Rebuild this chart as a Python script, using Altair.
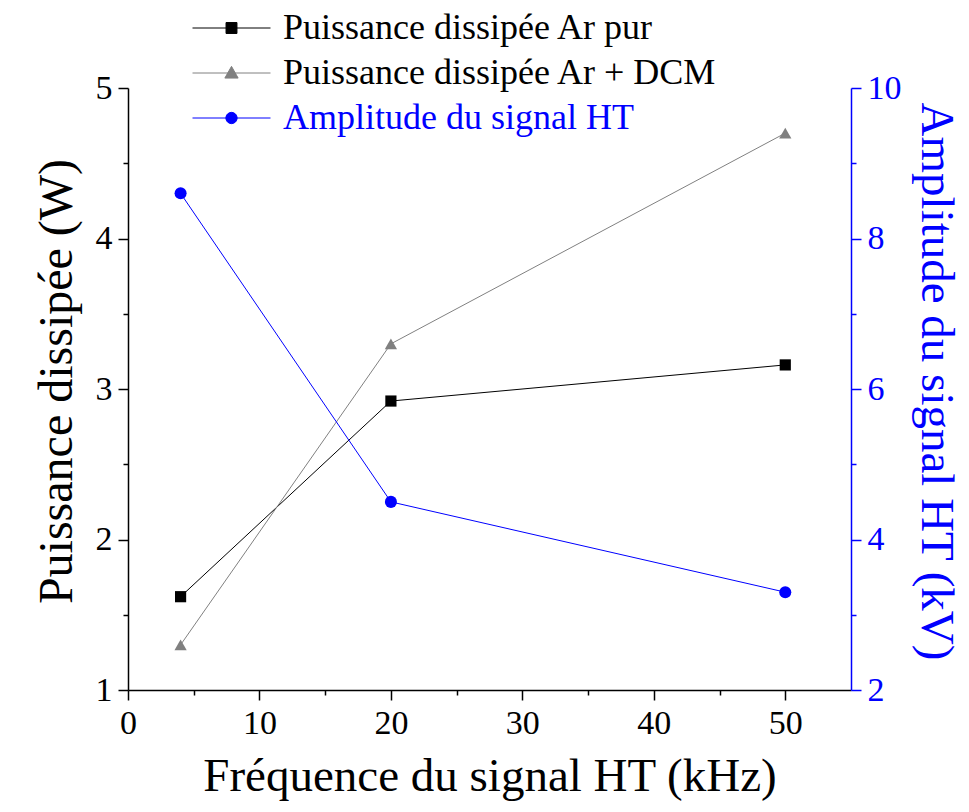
import altair as alt
import pandas as pd

freq = [4, 20, 50]
p_ar = [1.62, 2.92, 3.16]
p_dcm = [1.30, 3.30, 4.70]
amp_ht = [8.6, 4.5, 3.3]

series = ["Puissance dissipée Ar pur", "Puissance dissipée Ar + DCM", "Amplitude du signal HT"]
colors = ["#000000", "#808080", "#0000ff"]
shapes = ["square", "triangle-up", "circle"]
legend_paths = [
    "M-1,0H1M-0.14,-0.14H0.14V0.14H-0.14Z",
    "M-1,0H1M-0.17,0.13L0,-0.17L0.17,0.13Z",
    "M-1,0H1M-0.145,0A0.145,0.145 0 1,0 0.145,0A0.145,0.145 0 1,0 -0.145,0Z",
]

x_ticks = [0, 5, 10, 15, 20, 25, 30, 35, 40, 45, 50]
left_ticks = [1, 1.5, 2, 2.5, 3, 3.5, 4, 4.5, 5]
right_ticks = [2, 3, 4, 5, 6, 7, 8, 9, 10]

df_ar = pd.DataFrame({"f": freq, "v": p_ar})
df_dcm = pd.DataFrame({"f": freq, "v": p_dcm})
df_ht = pd.DataFrame({"f": freq, "v": amp_ht})
legend_df = pd.DataFrame({"s": series})

FONT = "Liberation Serif"
LBL = 34
TTL = 48

def tick_size(test):
    return {"condition": {"test": test, "value": 10}, "value": 5}

x_enc = alt.X(
    "f:Q",
    scale=alt.Scale(domain=[0, 55], nice=False, zero=False),
    axis=alt.Axis(
        title="Fréquence du signal HT (kHz)",
        values=x_ticks,
        labelExpr="datum.value % 10 == 0 ? format(datum.value, 'd') : ''",
        tickSize=tick_size("datum.value % 10 == 0"),
        labelPadding=6,
        titlePadding=13,
        titleFontSize=47,
    ),
)

y_left = alt.Y(
    "v:Q",
    scale=alt.Scale(domain=[1, 5], nice=False, zero=False),
    axis=alt.Axis(
        title="Puissance dissipée (W)",
        values=left_ticks,
        labelExpr="datum.value % 1 == 0 ? format(datum.value, 'd') : ''",
        tickSize=tick_size("datum.value % 1 == 0"),
        labelPadding=6,
        titlePadding=14,
        titleY=293,
        orient="left",
    ),
)

y_right = alt.Y(
    "v:Q",
    scale=alt.Scale(domain=[2, 10], nice=False, zero=False),
    axis=alt.Axis(
        title="Amplitude du signal HT (kV)",
        values=right_ticks,
        labelExpr="datum.value % 2 == 0 ? format(datum.value, 'd') : ''",
        tickSize=tick_size("datum.value % 2 == 0"),
        labelPadding=6,
        titlePadding=10,
        titleFontSize=47,
        titleY=293,
        orient="right",
        domainColor="#0000ff",
        tickColor="#0000ff",
        labelColor="#0000ff",
        titleColor="#0000ff",
    ),
)

def series_layers(df, y, color, shape, size):
    base = alt.Chart(df).encode(x=x_enc, y=y)
    line = base.mark_line(strokeWidth=1, color=color)
    pts = base.mark_point(filled=True, opacity=1, size=size, shape=shape, color=color)
    return line, pts

l_ar, p_ar_pts = series_layers(df_ar, y_left, colors[0], shapes[0], 125)
l_dcm, p_dcm_pts = series_layers(df_dcm, y_left, colors[1], shapes[1], 150)
l_ht, p_ht_pts = series_layers(df_ht, y_right, colors[2], shapes[2], 145)

color_expr = (
    "datum.value == 'Amplitude du signal HT' ? '#0000ff' : "
    "(datum.value == 'Puissance dissipée Ar + DCM' ? '#808080' : '#000000')"
)

leg = alt.Legend(
    title=None,
    orient="none",
    legendX=64,
    legendY=-78,
    direction="vertical",
    labelFont=FONT,
    labelFontSize=36,
    labelColor={"expr": "datum.label == 'Amplitude du signal HT' ? '#0000ff' : '#000000'"},
    labelOffset=12,
    symbolSize=6084,
    symbolStrokeWidth=1,
    symbolStrokeColor={"expr": color_expr},
    symbolOpacity=1,
    clipHeight=36,
    rowPadding=9,
    labelLimit=0,
)
legend_layer = (
    alt.Chart(legend_df)
    .transform_filter("false")
    .mark_point(filled=True, size=6084, strokeWidth=1)
    .encode(
        fill=alt.Fill("s:N", scale=alt.Scale(domain=series, range=colors), legend=leg),
        stroke=alt.Stroke("s:N", scale=alt.Scale(domain=series, range=colors), legend=leg),
        shape=alt.Shape("s:N", scale=alt.Scale(domain=series, range=legend_paths), legend=leg),
    )
)

left = alt.layer(l_ar, l_dcm, p_ar_pts, p_dcm_pts, legend_layer)
right = alt.layer(l_ht, p_ht_pts)

chart = (
    alt.layer(left, right)
    .resolve_scale(y="independent")
    .properties(
        width=723,
        height=602,
        autosize=alt.AutoSizeParams(type="none"),
        padding={"left": 120, "top": 80, "right": 110, "bottom": 114},
        background="white",
    )
    .configure_view(stroke=None)
    .configure_axis(
        grid=False,
        domainColor="#000000",
        domainWidth=1.5,
        tickColor="#000000",
        tickWidth=1.5,
        labelFont=FONT,
        labelFontSize=LBL,
        labelColor="#000000",
        titleFont=FONT,
        titleFontSize=TTL,
        titleFontWeight="normal",
        titleColor="#000000",
        labelFlush=False,
        labelOverlap=False,
    )
)

chart.save("out.html", embed_options={"renderer": "svg", "actions": False})
